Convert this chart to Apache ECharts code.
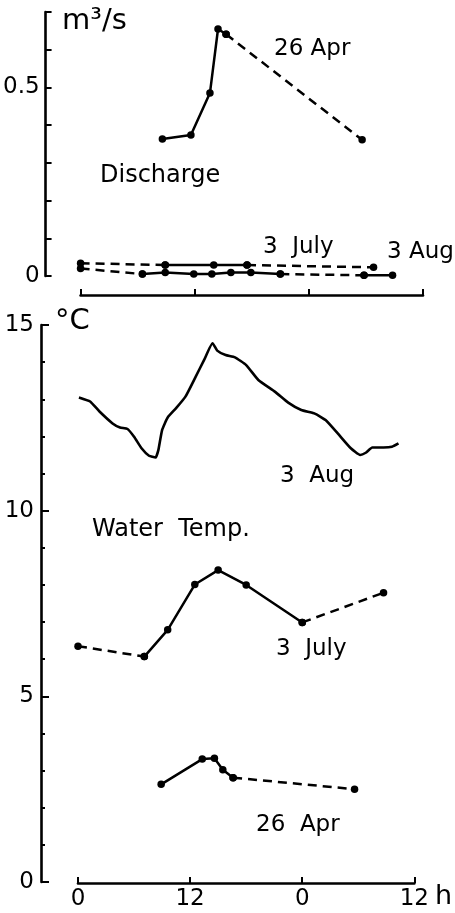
<!DOCTYPE html>
<html>
<head>
<meta charset="utf-8">
<script src="https://cdn.jsdelivr.net/npm/echarts@6/dist/echarts.min.js"></script>
<style>
html,body{margin:0;padding:0;background:#fff;}
#chart{width:455px;height:913px;}
</style>
</head>
<body>
<div id="chart"></div>
<script>
// ---------- axis ticks / labels ----------
const hourTicks = [0, 12, 24, 36];
const hourTickLabels = ['0', '12', '0', '12'];
const dischargeLabelValues = [0, 0.5];
const dischargeLabelTexts = ['0', '0.5'];
const tempLabelValues = [0, 5, 10, 15];
const tempLabelTexts = ['0', '5', '10', '15'];

// ---------- Discharge (m3/s) ----------
// 26 Apr
const qAprHours  = [8.6, 11.6, 13.6, 14.45, 15.3, 29.6];
const qAprValues = [0.363, 0.374, 0.485, 0.655, 0.641, 0.361];
const qAprDashed = [false, false, false, false, true];
// upper low-flow line
const qAugHours  = [0, 8.9, 14.0, 17.5, 30.8];
const qAugValues = [0.034, 0.029, 0.029, 0.029, 0.023];
const qAugDashed = [true, false, false, true];
// lower low-flow line
const qJulHours  = [0, 6.5, 8.9, 11.9, 13.8, 15.8, 17.9, 21.0, 29.8, 32.8];
const qJulValues = [0.020, 0.005, 0.009, 0.005, 0.005, 0.009, 0.009, 0.005, 0.002, 0.002];
const qJulDashed = [true, false, false, false, false, false, false, true, false];

// ---------- Water temperature (°C) ----------
// 3 Aug continuous record
const tAugHours  = [0.1, 1.3, 2.3, 3.7, 4.5, 5.3, 6.0, 6.8, 7.6, 8.3, 8.6, 9.0, 9.6, 10.5, 11.5, 12.6, 13.5, 14.4, 14.9, 15.8, 16.8, 18.0, 19.3, 21.1, 22.5, 23.9, 25.3, 26.5, 27.8, 29.2, 30.2, 30.8, 31.5, 32.7, 33.6, 34.3];
const tAugValues = [13.05, 12.94, 12.67, 12.35, 12.24, 12.20, 11.99, 11.68, 11.48, 11.43, 11.63, 12.17, 12.51, 12.76, 13.07, 13.61, 14.06, 14.51, 14.31, 14.19, 14.13, 13.92, 13.52, 13.20, 12.91, 12.71, 12.62, 12.44, 12.08, 11.68, 11.50, 11.56, 11.70, 11.70, 11.72, 11.81];
// 3 July
const tJulHours  = [0, 7.1, 9.6, 12.5, 15.0, 18.0, 24.0, 32.7];
const tJulValues = [6.35, 6.07, 6.79, 8.01, 8.40, 8.00, 6.99, 7.79];
const tJulDashed = [true, false, false, false, false, false, true];
// 26 Apr
const tAprHours  = [8.9, 13.3, 14.6, 15.5, 16.6, 29.6];
const tAprValues = [2.63, 3.31, 3.33, 3.02, 2.81, 2.50];
const tAprDashed = [false, false, false, false, true];

// ---------- helpers ----------
const INK = '#000';
const FONT = 'DejaVu Sans';

function segmentSeries(name, gridIdx, hours, values, dashed) {
  const out = [];
  let start = 0;
  for (let i = 1; i <= dashed.length; i++) {
    if (i === dashed.length || dashed[i] !== dashed[start]) {
      const data = [];
      for (let k = start; k <= i; k++) data.push([hours[k], values[k]]);
      out.push({
        type: 'line', name: name, xAxisIndex: gridIdx, yAxisIndex: gridIdx,
        data: data, symbol: 'circle', symbolSize: 7.5, showSymbol: true,
        lineStyle: { color: INK, width: 2.5, type: dashed[start] ? [9, 6] : 'solid' },
        itemStyle: { color: INK },
        silent: true, z: 3
      });
      start = i;
    }
  }
  return out;
}

function pickLabel(vals, texts) {
  return function (v) {
    for (let i = 0; i < vals.length; i++) if (Math.abs(v - vals[i]) < 1e-6) return texts[i];
    return '';
  };
}

const series = []
  .concat(segmentSeries('Discharge 26 Apr', 0, qAprHours, qAprValues, qAprDashed))
  .concat(segmentSeries('Discharge 3 Aug', 0, qAugHours, qAugValues, qAugDashed))
  .concat(segmentSeries('Discharge 3 July', 0, qJulHours, qJulValues, qJulDashed))
  .concat(segmentSeries('Temp 3 July', 1, tJulHours, tJulValues, tJulDashed))
  .concat(segmentSeries('Temp 26 Apr', 1, tAprHours, tAprValues, tAprDashed));

series.push({
  type: 'line', name: 'Temp 3 Aug', xAxisIndex: 1, yAxisIndex: 1,
  data: tAugHours.map((h, i) => [h, tAugValues[i]]),
  symbol: 'none', smooth: 0.15,
  lineStyle: { color: INK, width: 2.6 }, silent: true
});

const axisLineStyle = { color: INK, width: 2.6 };

function txt(text, x, y, size) {
  return { type: 'text', x: x, y: y, silent: true,
    style: { text: text, font: size + 'px "' + FONT + '"', fill: INK, textVerticalAlign: 'top' } };
}

const option = {
  animation: false,
  backgroundColor: '#fff',
  grid: [
    { left: 80, top: 12, width: 343, height: 264 },
    { left: 78, top: 325, width: 340, height: 557 }
  ],
  xAxis: [
    { type: 'value', gridIndex: 0, min: 0, max: 36, interval: 12, position: 'bottom', offset: 19,
      axisLine: { show: true, onZero: false, lineStyle: axisLineStyle },
      axisTick: { show: true, inside: true, length: 6, lineStyle: { color: INK, width: 2 } },
      axisLabel: { show: false }, splitLine: { show: false } },
    { type: 'value', gridIndex: 1, min: 0, max: 36, interval: 12, position: 'bottom', offset: 1,
      axisLine: { show: true, onZero: false, lineStyle: axisLineStyle },
      axisTick: { show: true, inside: true, length: 6, lineStyle: { color: INK, width: 2 } },
      axisLabel: { show: true, color: INK, fontFamily: FONT, fontSize: 23, margin: 5,
        formatter: pickLabel(hourTicks, hourTickLabels) },
      name: 'h', nameLocation: 'end', nameGap: 8,
      nameTextStyle: { color: INK, fontFamily: FONT, fontSize: 27, verticalAlign: 'top', padding: [0, 0, 0, 0], lineHeight: 27 },
      splitLine: { show: false } }
  ],
  yAxis: [
    { type: 'value', gridIndex: 0, min: 0, max: 0.7, interval: 0.1, position: 'left', offset: 35,
      axisLine: { show: true, onZero: false, lineStyle: axisLineStyle },
      axisTick: { show: true, inside: true, length: 6, lineStyle: { color: INK, width: 2 } },
      axisLabel: { show: true, color: INK, fontFamily: FONT, fontSize: 23, margin: 6,
        formatter: pickLabel(dischargeLabelValues, dischargeLabelTexts) },
      splitLine: { show: false } },
    { type: 'value', gridIndex: 1, min: 0, max: 15, interval: 5, position: 'left', offset: 37,
      axisLine: { show: true, onZero: false, lineStyle: axisLineStyle },
      axisTick: { show: true, inside: true, length: 8, lineStyle: { color: INK, width: 2 } },
      minorTick: { show: true, splitNumber: 5, length: 4, lineStyle: { color: INK, width: 2 } },
      axisLabel: { show: true, color: INK, fontFamily: FONT, fontSize: 23, margin: 7,
        formatter: pickLabel(tempLabelValues, tempLabelTexts) },
      splitLine: { show: false } }
  ],
  graphic: [
    txt('m³/s', 62, 7, 29),
    txt('26 Apr', 274, 38, 23),
    txt('Discharge', 100, 164, 24),
    txt('3  July', 263, 236, 23),
    txt('3 Aug', 387, 241, 23),
    txt('°C', 55, 307, 29),
    txt('3  Aug', 280, 465, 23),
    txt('Water  Temp.', 92, 518, 24),
    txt('3  July', 276, 638, 23),
    txt('26  Apr', 256, 814, 23)
  ],
  series: series
};

const chart = echarts.init(document.getElementById('chart'), null, { renderer: 'canvas' });
chart.setOption(option);
</script>
</body>
</html>
